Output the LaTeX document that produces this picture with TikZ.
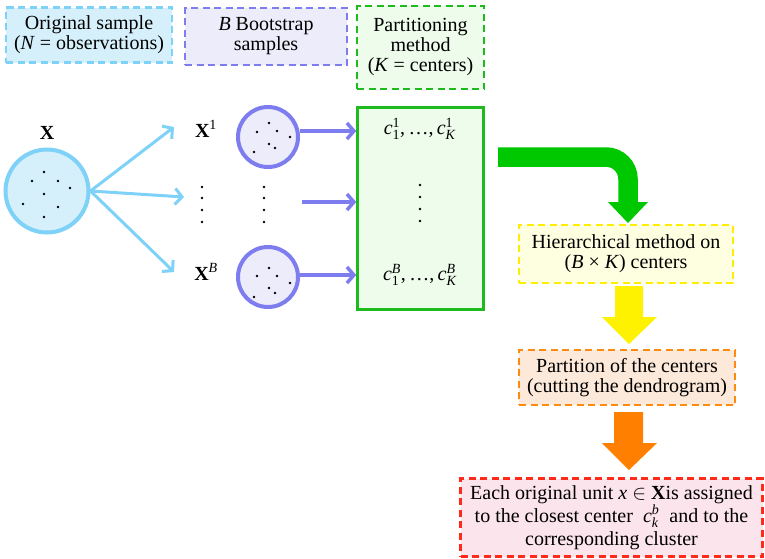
\documentclass[tikz,border=0pt]{standalone}
\usepackage{amsmath}
\usepackage{fontspec}
\setmainfont{Liberation Serif}
\usetikzlibrary{arrows.meta}
\definecolor{cyanfill}{HTML}{D6F0FB}
\definecolor{cyanline}{HTML}{7ED1F7}
\definecolor{purfill}{HTML}{ECECFB}
\definecolor{purline}{HTML}{7D7DF0}
\definecolor{grnfill}{HTML}{EEFCEC}
\definecolor{grnline}{HTML}{1DBB1D}
\definecolor{grnarrow}{HTML}{00C800}
\definecolor{yelfill}{HTML}{FEFEE0}
\definecolor{yelline}{HTML}{FFEE00}
\definecolor{orafill}{HTML}{FDE9D9}
\definecolor{oraline}{HTML}{FF8A10}
\definecolor{oraarrow}{HTML}{FF8000}
\definecolor{redfill}{HTML}{FCE4EC}
\definecolor{redline}{HTML}{FF2A1A}
\newcommand{\cvar}[2]{$\textit{c}_{\text{#1}}^{\text{#2}}$}
\tikzset{
  every node/.style={font=\fontsize{20}{20}\selectfont, inner sep=0pt, align=center},
  dbox/.style={draw, line width=2.5pt, dash pattern=on 7pt off 4.5pt, minimum width=#1},
  bigcirc/.style={circle, draw=cyanline, fill=cyanfill, line width=4pt, minimum size=83pt},
  smallcirc/.style={circle, draw=purline, fill=purfill, line width=4pt, minimum size=60pt},
  pt/.style={circle, fill=black, inner sep=0pt, minimum size=2.8pt},
  bluearr/.style={draw=cyanline, line width=3pt, -{Straight Barb[length=7pt,width=16pt]}},
  purarr/.style={draw=purline, line width=3.5pt, -{Straight Barb[length=7pt,width=16pt]}},
}
\begin{document}
\begin{tikzpicture}[x=1pt,y=-1pt]
\useasboundingbox (0,0) rectangle (765,558);
% top legend boxes
\node[dbox=166pt, draw=cyanline, fill=cyanfill, minimum height=55pt] (b1) at (89,35)
  {Original sample\\(\textit{N} = observations)};
\node[dbox=162pt, draw=purline, fill=purfill, minimum height=57pt] (b2) at (266,36.5)
  {\textit{B} Bootstrap\\samples};
\node[dbox=127pt, draw=grnline, fill=grnfill, minimum height=83pt] (b3) at (420.5,47.5)
  {Partitioning\\method\\(\textit{K} = centers)};
% original sample circle
\node[bigcirc] (cx) at (47,191) {};
\node (lx) at (47,133) {\textbf{X}};
\foreach \p in {(44,172),(32,181),(58,181),(70,188),(44,194),(23,204),(58,207),(44,217)}
  \node[pt] at \p {};
% bootstrap labels
\node (x1) at (206,129) {\textbf{X}$^{\text{1}}$};
\node (xb) at (206,272) {\textbf{X}$^{\textit{B}}$};
\foreach \yy in {187,198,210,222} {
  \node[pt] at (202,\yy) {};
  \node[pt] at (264,\yy) {};
}
% bootstrap circles
\node[smallcirc] (s1) at (268,137) {};
\node[smallcirc] (sb) at (268,277) {};
\foreach \p in {(269,123),(257,132),(277,131),(290,137),(269,144),(275,148),(254,152),
                (269,268),(257,276),(277,276),(290,283),(269,288),(275,293),(254,297)}
  \node[pt] at \p {};
% blue arrows
\coordinate (t1) at (174,127);
\coordinate (tm) at (184,197);
\coordinate (tb) at (174,272);
\draw[bluearr] (cx.east) -- (t1);
\draw[bluearr] (cx.east) -- (tm);
\draw[bluearr] (cx.east) -- (tb);
% partition rectangle
\node[draw=grnline, fill=grnfill, line width=2.5pt, minimum width=126pt, minimum height=202pt] (pr) at (420.5,208.5) {};
\node (c1) at (420,129) {\cvar{1}{1},\,\ldots,\,\cvar{\textit{K}}{1}};
\node (cb) at (420,275) {\cvar{1}{\textit{B}},\,\ldots,\,\cvar{\textit{K}}{\textit{B}}};
\foreach \yy in {185,197,209,221}
  \node[pt] at (420,\yy) {};
% purple arrows
\coordinate (pm) at (302,202);
\draw[purarr] (s1.east |- 0,131) -- (pr.west |- 0,131);
\draw[purarr] (pm) -- (pr.west |- pm);
\draw[purarr] (sb.east |- 0,275) -- (pr.west |- 0,275);
% green bent arrow
\coordinate (g0) at (498,157);
\coordinate (g1) at (628,157);
\coordinate (g2) at (628,202.5);
\draw[grnarrow, line width=19.5pt, rounded corners=22pt] (g0) -- (g1) -- (g2);
\fill[grnarrow] (608,202) -- (648,202) -- (628,223) -- cycle;
% right column boxes
\node[dbox=214pt, draw=yelline, fill=yelfill, minimum height=58pt] (hy) at (626,254)
  {Hierarchical method on\\(\textit{B} × \textit{K}) centers};
\node[dbox=216pt, draw=oraline, fill=orafill, minimum height=55pt] (pc) at (627,377.5)
  {Partition of the centers\\(cutting the dendrogram)};
\node[dbox=302pt, draw=redline, fill=redfill, minimum height=78pt, font=\fontsize{20}{23}\selectfont] (ea) at (611.5,517.5)
  {Each original unit \textit{x} $\in$ \textbf{X}is assigned\\to the closest center \ \cvar{\textit{k}}{\textit{b}} \ and to the\\corresponding cluster};
% block arrows
\fill[yellow] (615,286) -- (643,286) -- (643,317) -- (657,317) -- (629,344) -- (602,317) -- (615,317) -- cycle;
\fill[oraarrow] (614,412) -- (643,412) -- (643,443) -- (657,443) -- (629,470) -- (602,443) -- (614,443) -- cycle;
\end{tikzpicture}
\end{document}
